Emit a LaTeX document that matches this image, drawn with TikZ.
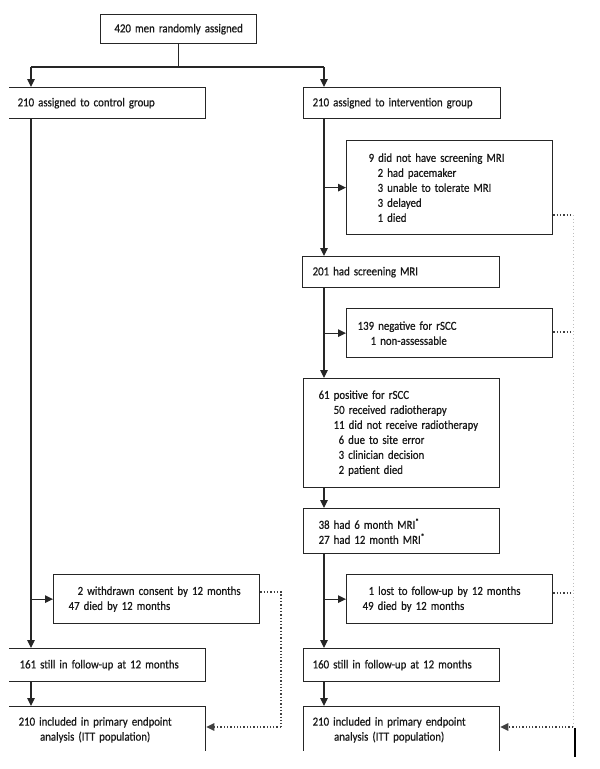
\documentclass[tikz,border=0pt]{standalone}
\usepackage{fontspec}
\setmainfont{Carlito}[FakeStretch=0.88,FakeBold=0.6]
\usetikzlibrary{arrows.meta}
\tikzset{
  box/.style={draw=black!85, line width=1.3pt, anchor=north west, align=left,
    inner ysep=0pt, text=black!90, font=\fontsize{12.3}{15}\selectfont},
  arr/.style={draw=black!85, line width=1.2pt, -{Triangle[length=8pt,width=7.5pt]}},
  ln/.style={draw=black!85, line width=1.2pt},
  dots/.style={draw=black!75, line width=1.2pt, dash pattern=on 1.3pt off 2pt},
  faint/.style={draw=black!25, line width=1pt, dash pattern=on 1pt off 2.5pt},
}
\begin{document}
\begin{tikzpicture}[x=1pt,y=-1pt]
\useasboundingbox (0,0) rectangle (600,769);
\begin{scope}
\clip (9,0) rectangle (600,750);
\node[box, align=center, text width=148pt, inner xsep=4pt, minimum height=29pt] (top) at (100,14) {420 men randomly assigned};
\node[box, text width=179pt, inner xsep=9pt, minimum height=31pt] (ctrl) at (8,87) {210 assigned to control group};
\node[box, text width=179pt, inner xsep=9pt, minimum height=31pt] (intv) at (303,87) {210 assigned to intervention group};
\node[box, text width=162pt, inner xsep=22pt, minimum height=94pt] (nomri) at (346,140) {9 did not have screening MRI\\
\hspace*{9pt}2 had pacemaker\\
\hspace*{9pt}3 unable to tolerate MRI\\
\hspace*{9pt}3 delayed\\
\hspace*{9pt}1 died};
\node[box, text width=177pt, inner xsep=10pt, minimum height=31pt] (scr) at (302,256) {201 had screening MRI};
\node[box, text width=184pt, inner xsep=11pt, minimum height=49pt] (neg) at (346,308) {139 negative for rSCC\\
\hspace*{13pt}1 non-assessable};
\node[box, text width=166pt, inner xsep=15pt, minimum height=109pt] (pos) at (303,378) {61 positive for rSCC\\
\hspace*{15pt}50 received radiotherapy\\
\hspace*{15pt}11 did not receive radiotherapy\\
\hspace*{20pt}6 due to site error\\
\hspace*{20pt}3 clinician decision\\
\hspace*{20pt}2 patient died};
\node[box, text width=166pt, inner xsep=15pt, minimum height=45pt] (six) at (303,508) {38 had 6 month MRI\textsuperscript{*}\\
27 had 12 month MRI\textsuperscript{*}};
\node[box, text width=176pt, inner xsep=15pt, minimum height=49pt] (wd) at (53,574) {\hspace*{9pt}2 withdrawn consent by 12 months\\
47 died by 12 months};
\node[box, text width=174pt, inner xsep=16pt, minimum height=49pt] (lost) at (346,574) {\hspace*{6pt}1 lost to follow-up by 12 months\\
49 died by 12 months};
\node[box, text width=175pt, inner xsep=11pt, minimum height=33pt] (c161) at (8,648) {161 still in follow-up at 12 months};
\node[box, text width=178pt, inner xsep=9pt, minimum height=33pt] (i160) at (303,648) {160 still in follow-up at 12 months};
\node[box, text width=177pt, inner xsep=10pt, minimum height=47pt] (cinc) at (8,706) {\begin{tabular}{@{}c@{}}210 included in primary endpoint\\ analysis (ITT population)\end{tabular}};
\node[box, text width=178pt, inner xsep=9pt, minimum height=47pt] (iinc) at (303,706) {\begin{tabular}{@{}c@{}}210 included in primary endpoint\\ analysis (ITT population)\end{tabular}};
\end{scope}
% trunk
\coordinate (cL) at (31,67);
\coordinate (cR) at (324,67);
\draw[ln] (top.south) -- (top.south |- cL);
\draw[ln] (cL) -- (cR);
\draw[arr] (cL) -- (cL |- ctrl.north);
\draw[arr] (cR) -- (cR |- intv.north);
% control column
\draw[arr] (cL |- ctrl.south) -- (cL |- c161.north);
\draw[arr] (cL |- wd.west) -- (wd.west);
\draw[arr] (cL |- c161.south) -- (cL |- cinc.north);
% intervention column
\draw[arr] (cR |- intv.south) -- (cR |- scr.north);
\draw[arr] (cR |- nomri.west) -- (nomri.west);
\draw[arr] (cR |- scr.south) -- (cR |- pos.north);
\draw[arr] (cR |- neg.west) -- (neg.west);
\draw[arr] (cR |- pos.south) -- (cR |- six.north);
\draw[arr] (cR |- six.south) -- (cR |- i160.north);
\draw[arr] (cR |- lost.west) -- (lost.west);
\draw[arr] (cR |- i160.south) -- (cR |- iinc.north);
% dotted left
\coordinate (dl1) at (281,592);
\coordinate (dl2) at (281,727);
\draw[dots] (wd.east |- dl1) -- (dl1) -- (dl2);
\draw[dots, -{Triangle[length=8pt,width=7.5pt]}] (dl2) -- (dl2 -| cinc.east);
% dotted right
\coordinate (r1) at (573,215);
\coordinate (r2) at (573,332);
\coordinate (r3) at (573,593);
\coordinate (r4) at (573,727);
\draw[dots] (nomri.east |- r1) -- (r1);
\draw[dots] (neg.east |- r2) -- (r2);
\draw[dots] (lost.east |- r3) -- (r3);
\draw[faint] (r1) -- (r4);
\draw[dots, -{Triangle[length=8pt,width=7.5pt]}] (r4) -- (r4 -| iinc.east);
\coordinate (s1) at (575,728);
\coordinate (s2) at (575,757);
\draw[line width=1.5pt, black] (s1) -- (s2);
\end{tikzpicture}
\end{document}
